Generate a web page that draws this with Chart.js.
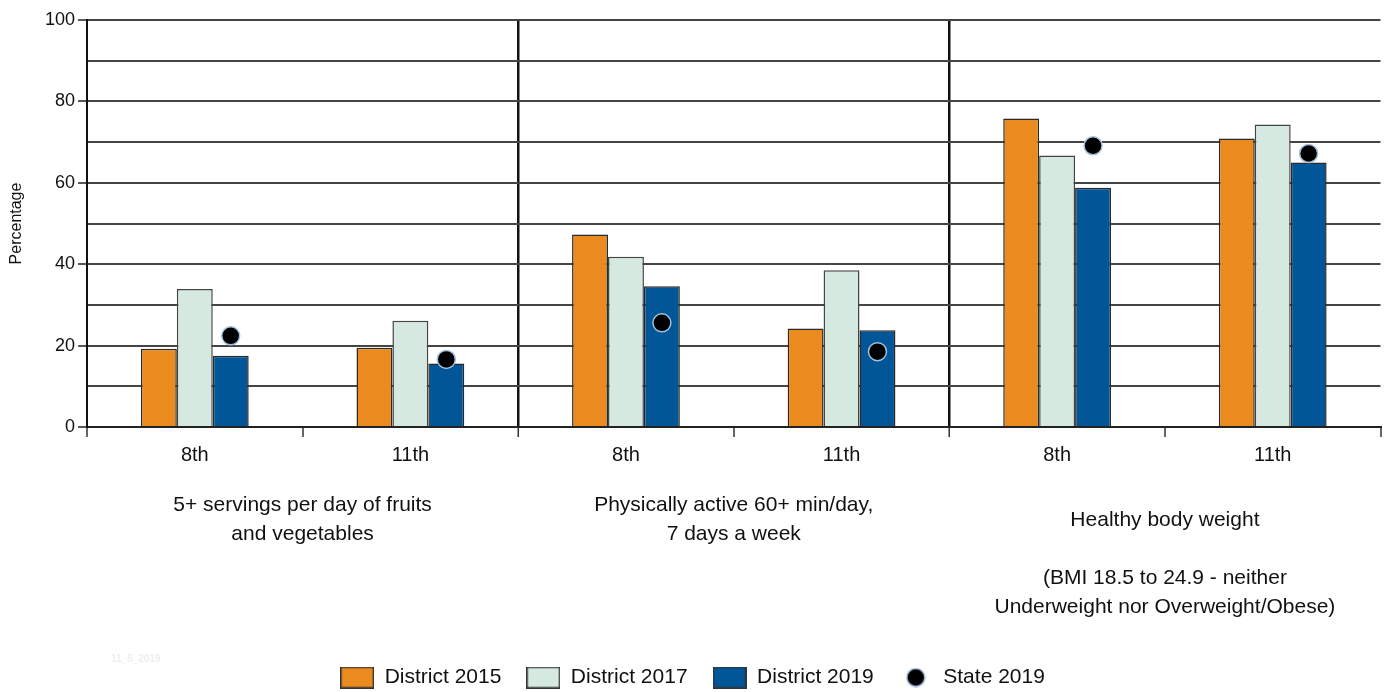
<!DOCTYPE html>
<html>
<head>
<meta charset="utf-8">
<title>Healthy habits by grade</title>
<script src="https://cdn.jsdelivr.net/npm/chart.js@4.4.1/dist/chart.umd.min.js"></script>
<style>
  html, body { margin: 0; padding: 0; background: #fff; }
  #wrap { width: 1391px; height: 692px; position: relative; }
</style>
</head>
<body>
<div id="wrap"><canvas id="healthChart"></canvas></div>
<script>
// Data
const categories = ['8th', '11th', '8th', '11th', '8th', '11th'];
const groupLines = [
    ['5+ servings per day of fruits', 'and vegetables'],
    ['Physically active 60+ min/day,', '7 days a week'],
    ['Healthy body weight', '', '(BMI 18.5 to 24.9 - neither', 'Underweight nor Overweight/Obese)']
];
const district2015 = [19.2, 19.5, 47.3, 24.2, 75.8, 70.9];
const district2017 = [33.9, 26.1, 41.8, 38.5, 66.7, 74.3];
const district2019 = [17.5, 15.6, 34.6, 23.8, 58.8, 65.0];
const state2019 = [22.4, 16.6, 25.6, 18.5, 69.1, 67.2];

const FONT = "'Liberation Sans', Arial, sans-serif";
const ORANGE = '#EB8A1F';
const MINT = '#D6E9E0';
const BLUE = '#005697';
const BAR_EDGE = '#2a2a2a';
const DOT_EDGE = '#a3c1e0';

// bars take half of each category, three bars side by side;
// state dots sit over the third (2019) bar
const catPct = 0.5;
const dotShift = catPct / 3;

// legend icons
function boxIcon(fill) {
    const c = document.createElement('canvas');
    c.width = 34; c.height = 22;
    const g = c.getContext('2d');
    g.fillStyle = fill;
    g.fillRect(0, 0, 34, 22);
    g.strokeStyle = '#333';
    g.lineWidth = 1.5;
    g.strokeRect(0.75, 0.75, 32.5, 20.5);
    return c;
}
function dotIcon() {
    const c = document.createElement('canvas');
    c.width = 20; c.height = 20;
    const g = c.getContext('2d');
    g.beginPath();
    g.arc(10, 10, 9, 0, Math.PI * 2);
    g.fillStyle = '#000';
    g.fill();
    g.strokeStyle = DOT_EDGE;
    g.lineWidth = 1.5;
    g.stroke();
    return c;
}
const legendIcons = [boxIcon(ORANGE), boxIcon(MINT), boxIcon(BLUE), dotIcon()];

// faint file stamp at the lower left
const stampPlugin = {
    id: 'stamp',
    afterDraw(chart) {
        const ctx = chart.ctx;
        ctx.save();
        ctx.font = 'bold 10px ' + FONT;
        ctx.fillStyle = '#eeeeee';
        ctx.textBaseline = 'middle';
        ctx.fillText('11_5_2019', 111, 659);
        ctx.restore();
    }
};

function barSet(label, data, fill, edge) {
    return {
        label: label,
        data: data,
        backgroundColor: fill,
        borderColor: edge,
        borderWidth: 1.5,
        categoryPercentage: catPct,
        barPercentage: 1.0
    };
}

const ctx = document.getElementById('healthChart').getContext('2d');
new Chart(ctx, {
    type: 'bar',
    data: {
        labels: categories,
        datasets: [
            barSet('District 2015', district2015, ORANGE, BAR_EDGE),
            barSet('District 2017', district2017, MINT, '#444'),
            barSet('District 2019', district2019, BLUE, BAR_EDGE),
            {
                type: 'line',
                label: 'State 2019',
                // category index + shift onto the 2019 bar
                parsing: false,
                data: state2019.map((v, i) => ({ x: i + dotShift, y: v })),
                showLine: false,
                order: -1,
                pointStyle: 'circle',
                pointRadius: 9,
                pointHoverRadius: 9,
                pointBackgroundColor: '#000',
                pointBorderColor: DOT_EDGE,
                pointBorderWidth: 1.5,
                backgroundColor: '#000',
                borderColor: DOT_EDGE
            }
        ]
    },
    options: {
        responsive: true,
        maintainAspectRatio: false,
        animation: false,
        layout: { padding: { top: 20, right: 6, left: 0, bottom: -6 } },
        plugins: {
            tooltip: { enabled: false },
            legend: {
                position: 'bottom',
                labels: {
                    usePointStyle: true,
                    pointStyleWidth: 34,
                    padding: 25,
                    color: '#111',
                    font: { family: FONT, size: 21 },
                    generateLabels(chart) {
                        const items = Chart.defaults.plugins.legend.labels.generateLabels(chart);
                        items.forEach(it => { it.pointStyle = legendIcons[it.datasetIndex]; });
                        return items.sort((a, b) => a.datasetIndex - b.datasetIndex);
                    }
                }
            }
        },
        scales: {
            x: {
                type: 'category',
                position: 'bottom',
                weight: 0,
                offset: true,
                grid: {
                    offset: true,
                    color: c => (c.index === 2 || c.index === 4) ? '#111'
                        : (c.index === 6 ? '#9a9a9a' : 'rgba(0,0,0,0)'),
                    lineWidth: c => (c.index === 2 || c.index === 4) ? 2.5 : 2,
                    tickColor: '#333',
                    tickWidth: 1.5,
                    tickLength: 10
                },
                border: { display: true, color: '#222', width: 2 },
                ticks: {
                    color: '#111',
                    padding: 6,
                    maxRotation: 0,
                    autoSkip: false,
                    font: { family: FONT, size: 20 }
                },
                afterFit(scale) { scale.height = 50; }
            },
            groups: {
                type: 'category',
                position: 'bottom',
                weight: 1,
                labels: groupLines.map(lines => lines.join(' ')),
                offset: true,
                grid: { display: false, drawTicks: false },
                border: { display: false },
                ticks: {
                    color: '#111',
                    padding: 21,
                    maxRotation: 0,
                    autoSkip: false,
                    font: { family: FONT, size: 21, lineHeight: '14.5px' },
                    // half-line steps; the body weight block starts half a line lower
                    callback(value, index) {
                        const lines = groupLines[index];
                        const out = index === 2 ? [''] : [];
                        lines.forEach((l, i) => {
                            out.push(l);
                            if (i < lines.length - 1) out.push('');
                        });
                        return out;
                    }
                },
                afterFit(scale) { scale.height = 165; }
            },
            y: {
                min: 0,
                max: 100,
                ticks: {
                    stepSize: 10,
                    color: '#111',
                    padding: 3,
                    font: { family: FONT, size: 18 },
                    callback: v => (v % 20 === 0 ? v : '')
                },
                grid: {
                    color: '#454545',
                    lineWidth: 2,
                    tickLength: 9,
                    tickWidth: 1.5,
                    tickColor: c => (c.tick && c.tick.value % 20 === 0) ? '#222' : 'rgba(0,0,0,0)'
                },
                border: { display: true, color: '#111', width: 2 },
                title: {
                    display: true,
                    text: 'Percentage',
                    color: '#111',
                    padding: { top: 7, bottom: 0 },
                    font: { family: FONT, size: 16 }
                },
                afterFit(scale) { scale.width = 87; }
            }
        }
    },
    plugins: [stampPlugin]
});
</script>
</body>
</html>
